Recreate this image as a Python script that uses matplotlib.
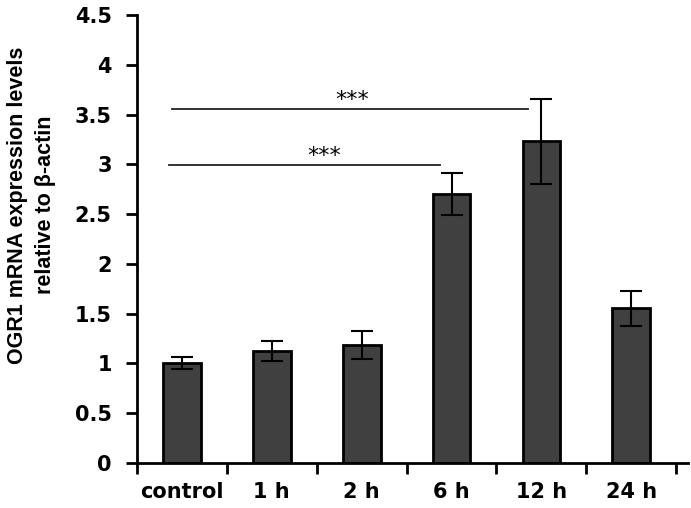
import matplotlib
matplotlib.use("Agg")
import matplotlib.pyplot as plt
import numpy as np

categories = ["control", "1 h", "2 h", "6 h", "12 h", "24 h"]
values = [1.00, 1.125, 1.185, 2.70, 3.23, 1.553]
errors = [0.06, 0.10, 0.145, 0.21, 0.43, 0.175]
yticks = [0, 0.5, 1, 1.5, 2, 2.5, 3, 3.5, 4, 4.5]
ytick_labels = ["0", "0.5", "1", "1.5", "2", "2.5", "3", "3.5", "4", "4.5"]
# significance brackets: (x start, x end, y, label)
sig = [(-0.11, 3.85, 3.557, "***"), (-0.14, 2.87, 2.99, "***")]
sig_label_x = [1.90, 1.58]

plt.rcParams['font.family'] = ['DejaVu Sans']

fig = plt.figure(figsize=(6.91, 5.08), dpi=100)
ax = fig.add_axes([0.198, 0.0886, 0.7977, 0.8819])

x = np.arange(len(categories))
ax.bar(x, values, width=0.42, color="#404040", edgecolor="black", linewidth=2, zorder=2)
ax.errorbar(x, values, yerr=errors, fmt="none", ecolor="black", elinewidth=1.5,
            capsize=8, capthick=1.5, zorder=3)

for (x0, x1, y, lab), lx in zip(sig, sig_label_x):
    ax.plot([x0, x1], [y, y], color="#222222", linewidth=1.3)
    ax.text(lx, y + 0.03, lab, ha="center", va="baseline", fontsize=16)

ax.set_xlim(-0.5, 5.63)
ax.set_ylim(0, 4.5)
ax.set_yticks(yticks)
ax.set_yticklabels(ytick_labels, fontsize=15, fontweight="bold")
ax.set_xticks(np.arange(-0.5, 6.0, 1.0))
ax.set_xticklabels([])
ax.set_xticks(x, minor=True)
ax.set_xticklabels(categories, minor=True, fontsize=15, fontweight="bold")
ax.tick_params(axis="x", which="minor", length=0, pad=14)
ax.tick_params(axis="x", which="major", length=8, width=2, direction="out")
ax.tick_params(axis="y", length=8, width=2, direction="out", pad=10)

for s in ["top", "right"]:
    ax.spines[s].set_visible(False)
for s in ["left", "bottom"]:
    ax.spines[s].set_linewidth(2)

fig.text(31.5 / 691, 1 - 205 / 508, "OGR1 mRNA expression levels\nrelative to β-actin",
         rotation=90, ha="center", va="center", fontsize=15.5, fontweight="bold",
         family=["Liberation Sans", "DejaVu Sans"], linespacing=1.4, multialignment="center")

fig.savefig("out.png", dpi=100)
